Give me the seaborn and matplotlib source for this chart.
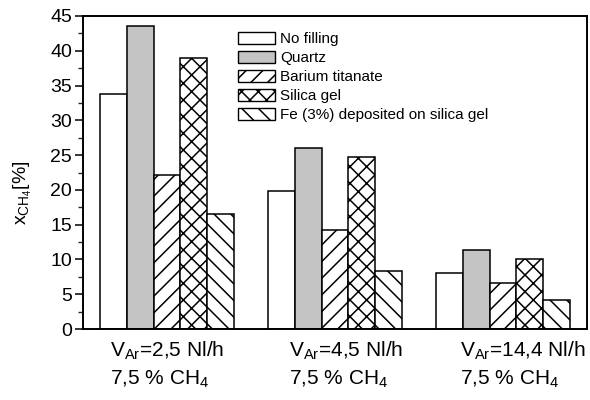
import matplotlib
matplotlib.use('Agg')
import matplotlib.pyplot as plt
import matplotlib.transforms as mtransforms
from matplotlib.patches import Patch
from matplotlib.ticker import MultipleLocator
import seaborn as sns
import pandas as pd

# ---- data ----
conditions = [
    r'V$_{\mathrm{Ar}}$=2,5 Nl/h' + '\n' + r'7,5 % CH$_4$',
    r'V$_{\mathrm{Ar}}$=4,5 Nl/h' + '\n' + r'7,5 % CH$_4$',
    r'V$_{\mathrm{Ar}}$=14,4 Nl/h' + '\n' + r'7,5 % CH$_4$',
]
fillings = ['No filling', 'Quartz', 'Barium titanate', 'Silica gel',
            'Fe (3%) deposited on silica gel']
no_filling = [33.8, 19.8, 8.1]
quartz = [43.5, 26.0, 11.4]
barium_titanate = [22.1, 14.3, 6.6]
silica_gel = [39.0, 24.7, 10.1]
fe_on_silica = [16.6, 8.3, 4.1]
series = [no_filling, quartz, barium_titanate, silica_gel, fe_on_silica]

rows = []
for name, vals in zip(fillings, series):
    for cond, v in zip(conditions, vals):
        rows.append({'condition': cond, 'filling': name, 'value': v})
df = pd.DataFrame(rows)

# ---- style ----
sns.set_style('ticks')
plt.rcParams['font.family'] = ['Liberation Sans', 'DejaVu Sans']
plt.rcParams['mathtext.fontset'] = 'custom'
plt.rcParams['mathtext.rm'] = 'Liberation Sans'
plt.rcParams['mathtext.it'] = 'Liberation Sans:italic'
plt.rcParams['mathtext.bf'] = 'Liberation Sans:bold'
plt.rcParams['hatch.linewidth'] = 1.1
plt.rcParams['text.color'] = 'black'
plt.rcParams['axes.labelcolor'] = 'black'

faces = ['white', '#c4c4c4', 'white', 'white', 'white']
hatches = ['', '', '//', 'xx', '\\\\']

fig = plt.figure(figsize=(5.9, 4.0), dpi=100)
ax = fig.add_axes([83/590, 1-329/400, (587-83)/590, (329-16)/400])

sns.barplot(data=df, x='condition', y='value', hue='filling',
            order=conditions, hue_order=fillings,
            palette=['white']*5, saturation=1, width=0.8,
            edgecolor='black', linewidth=1.1, legend=False, ax=ax)

for cont, fc, h in zip(ax.containers, faces, hatches):
    for p in cont.patches:
        p.set_facecolor(fc)
        p.set_hatch(h)
        p.set_edgecolor('black')

ax.set_xlim(-0.5, 2.5)
ax.set_ylim(0, 45)
ax.yaxis.set_major_locator(MultipleLocator(5))
ax.yaxis.set_minor_locator(MultipleLocator(2.5))
ax.tick_params(axis='y', which='major', direction='out', length=6, width=1.1,
               labelsize=14, pad=2, colors='black')
ax.tick_params(axis='y', which='minor', direction='out', length=3.5, width=1.0)
ax.tick_params(axis='x', length=0, labelsize=15, pad=8, colors='black')
for s in ax.spines.values():
    s.set_linewidth(1.4)
    s.set_color('black')

ax.set_xlabel('')
ax.set_ylabel(r'x$_{\mathrm{CH}_4}$[%]', fontsize=14, color='black')
ax.yaxis.set_label_coords(-0.097, 0.435)

shifts_px = [0, 11, 20]
for lab, dx in zip(ax.get_xticklabels(), shifts_px):
    lab.set_multialignment('left')
    lab.set_linespacing(1.4)
    lab.set_transform(lab.get_transform() +
                      mtransforms.ScaledTranslation(dx/100, 0, fig.dpi_scale_trans))

handles = [Patch(facecolor=fc, edgecolor='black', hatch=h, linewidth=1.0, label=n)
           for fc, h, n in zip(faces, hatches, fillings)]
ax.legend(handles=handles, loc='upper left', bbox_to_anchor=(238/590, 1-32/400),
          bbox_transform=fig.transFigure, frameon=False, fontsize=11,
          handlelength=2.4, handleheight=0.8, handletextpad=0.35,
          labelspacing=0.32, borderpad=0, borderaxespad=0)

fig.savefig('out.png', dpi=100)
